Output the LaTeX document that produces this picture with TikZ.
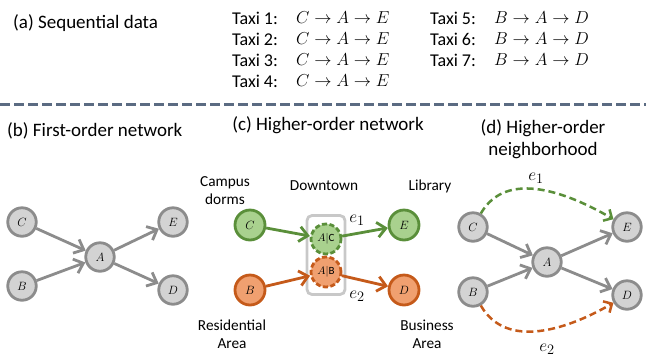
\documentclass[tikz,border=0pt]{standalone}
\usepackage{fontspec}
\setmainfont{Carlito}
\usetikzlibrary{arrows.meta}
\definecolor{ngray}{HTML}{8C8C8C}
\definecolor{nfill}{HTML}{D3D3D3}
\definecolor{gborder}{HTML}{5A8F3A}
\definecolor{gfill}{HTML}{A9D18E}
\definecolor{oborder}{HTML}{C55A1A}
\definecolor{ofill}{HTML}{F0A070}
\definecolor{sepcol}{HTML}{5B6B82}
\definecolor{boxgray}{HTML}{C8C8C8}
\begin{document}
\begin{tikzpicture}[x=1pt,y=-1pt,
  title/.style={font=\fontsize{19}{22}\selectfont,inner sep=0pt},
  taxi/.style={font=\fontsize{18}{20}\selectfont,inner sep=0pt,anchor=west},
  taximath/.style={font=\fontsize{16.5}{20}\selectfont,inner sep=0pt,anchor=west},
  lbl/.style={font=\fontsize{15.3}{18}\selectfont,inner sep=0pt,align=center},
  elbl/.style={font=\fontsize{19}{22}\selectfont,inner sep=0pt},
  gnode/.style={circle,draw=ngray,fill=nfill,line width=2.8pt,minimum size=28.5pt,inner sep=0pt,font=\fontsize{11.5}{13}\selectfont},
  grn/.style={circle,draw=gborder,fill=gfill,line width=2.8pt,minimum size=30pt,inner sep=0pt,font=\fontsize{11.5}{13}\selectfont},
  org/.style={circle,draw=oborder,fill=ofill,line width=2.8pt,minimum size=30pt,inner sep=0pt,font=\fontsize{11.5}{13}\selectfont},
  dnode/.style={dash pattern=on 5pt off 2.5pt,font=\fontsize{11}{12}\selectfont},
  arr/.style={line width=2.8pt,-{Straight Barb[length=8.5pt,width=15pt]}},
  garr/.style={arr,draw=ngray},
  greenarr/.style={arr,draw=gborder},
  orangearr/.style={arr,draw=oborder},
  darr/.style={line width=2.5pt,dash pattern=on 7pt off 4pt,-{Straight Barb[length=6.5pt,width=13pt]}}
]
\useasboundingbox (0,0) rectangle (646,360);

% (a)
\node[title,anchor=west] (ta) at (13,23) {(a) Sequential data};
\foreach \i/\y in {1/18,2/39,3/60,4/81}{
  \node[taxi] (tx\i) at (232,\y) {Taxi \i:};
  \node[taximath] (tm\i) at (296,\y) {$C\rightarrow A\rightarrow E$};
}
\foreach \i/\y in {5/18,6/39,7/60}{
  \node[taxi] (tx\i) at (430,\y) {Taxi \i:};
  \node[taximath] (tm\i) at (494,\y) {$B\rightarrow A\rightarrow D$};
}
\coordinate (sl) at (0,104);
\coordinate (sr) at (646,104);
\draw[sepcol,line width=3pt,dash pattern=on 10pt off 4pt] (sl) -- (sr);

% (b)
\node[title,anchor=west] (tb) at (7,131) {(b) First-order network};
\node[gnode] (bC) at (22,222) {$C$};
\node[gnode] (bA) at (100,257) {$A$};
\node[gnode] (bE) at (173,222) {$E$};
\node[gnode] (bB) at (22,286) {$B$};
\node[gnode] (bD) at (173,290) {$D$};
\draw[garr] (bC) -- (bA);
\draw[garr] (bB) -- (bA);
\draw[garr] (bA) -- (bE);
\draw[garr] (bA) -- (bD);

% (c)
\node[title] (tc) at (328,125) {(c) Higher-order network};
\node[draw=boxgray,line width=2.8pt,rounded corners=5pt,minimum width=38pt,minimum height=79pt] (box) at (326,255) {};
\node[grn] (cC) at (250,225) {$C$};
\node[grn,dnode] (cAC) at (326,239) {$A|\mathrm{C}$};
\node[org,dnode] (cAB) at (326,272) {$A|\mathrm{B}$};
\node[grn] (cE) at (404,225) {$E$};
\node[org] (cB) at (250,290) {$B$};
\node[org] (cD) at (404,290) {$D$};
\draw[greenarr] (cC) -- (cAC);
\draw[greenarr] (cAC) -- (cE);
\draw[orangearr] (cB) -- (cAB);
\draw[orangearr] (cAB) -- (cD);
\node[lbl] (lcd) at (225,191) {Campus\\dorms};
\node[lbl] (ldt) at (324,186) {Downtown};
\node[lbl] (llb) at (430,186) {Library};
\node[lbl] (lra) at (232,334) {Residential\\Area};
\node[lbl] (lba) at (427,334) {Business\\Area};
\node[elbl] (ce1) at (357,220) {$e_1$};
\node[elbl] (ce2) at (357,296) {$e_2$};

% (d)
\node[title,align=center] (td) at (543,139) {(d) Higher-order\\neighborhood};
\node[gnode] (dC) at (473,227) {$C$};
\node[gnode] (dA) at (547,262) {$A$};
\node[gnode] (dE) at (627,227) {$E$};
\node[gnode] (dB) at (473,292) {$B$};
\node[gnode] (dD) at (627,295) {$D$};
\draw[garr] (dC) -- (dA);
\draw[garr] (dB) -- (dA);
\draw[garr] (dA) -- (dE);
\draw[garr] (dA) -- (dD);
\draw[darr,draw=gborder] (dC) to[out=60,in=150] (dE);
\draw[darr,draw=oborder] (dB) to[out=-60,in=-150] (dD);
\node[elbl] (de1) at (536,178) {$e_1$};
\node[elbl] (de2) at (547,349) {$e_2$};
\end{tikzpicture}
\end{document}
